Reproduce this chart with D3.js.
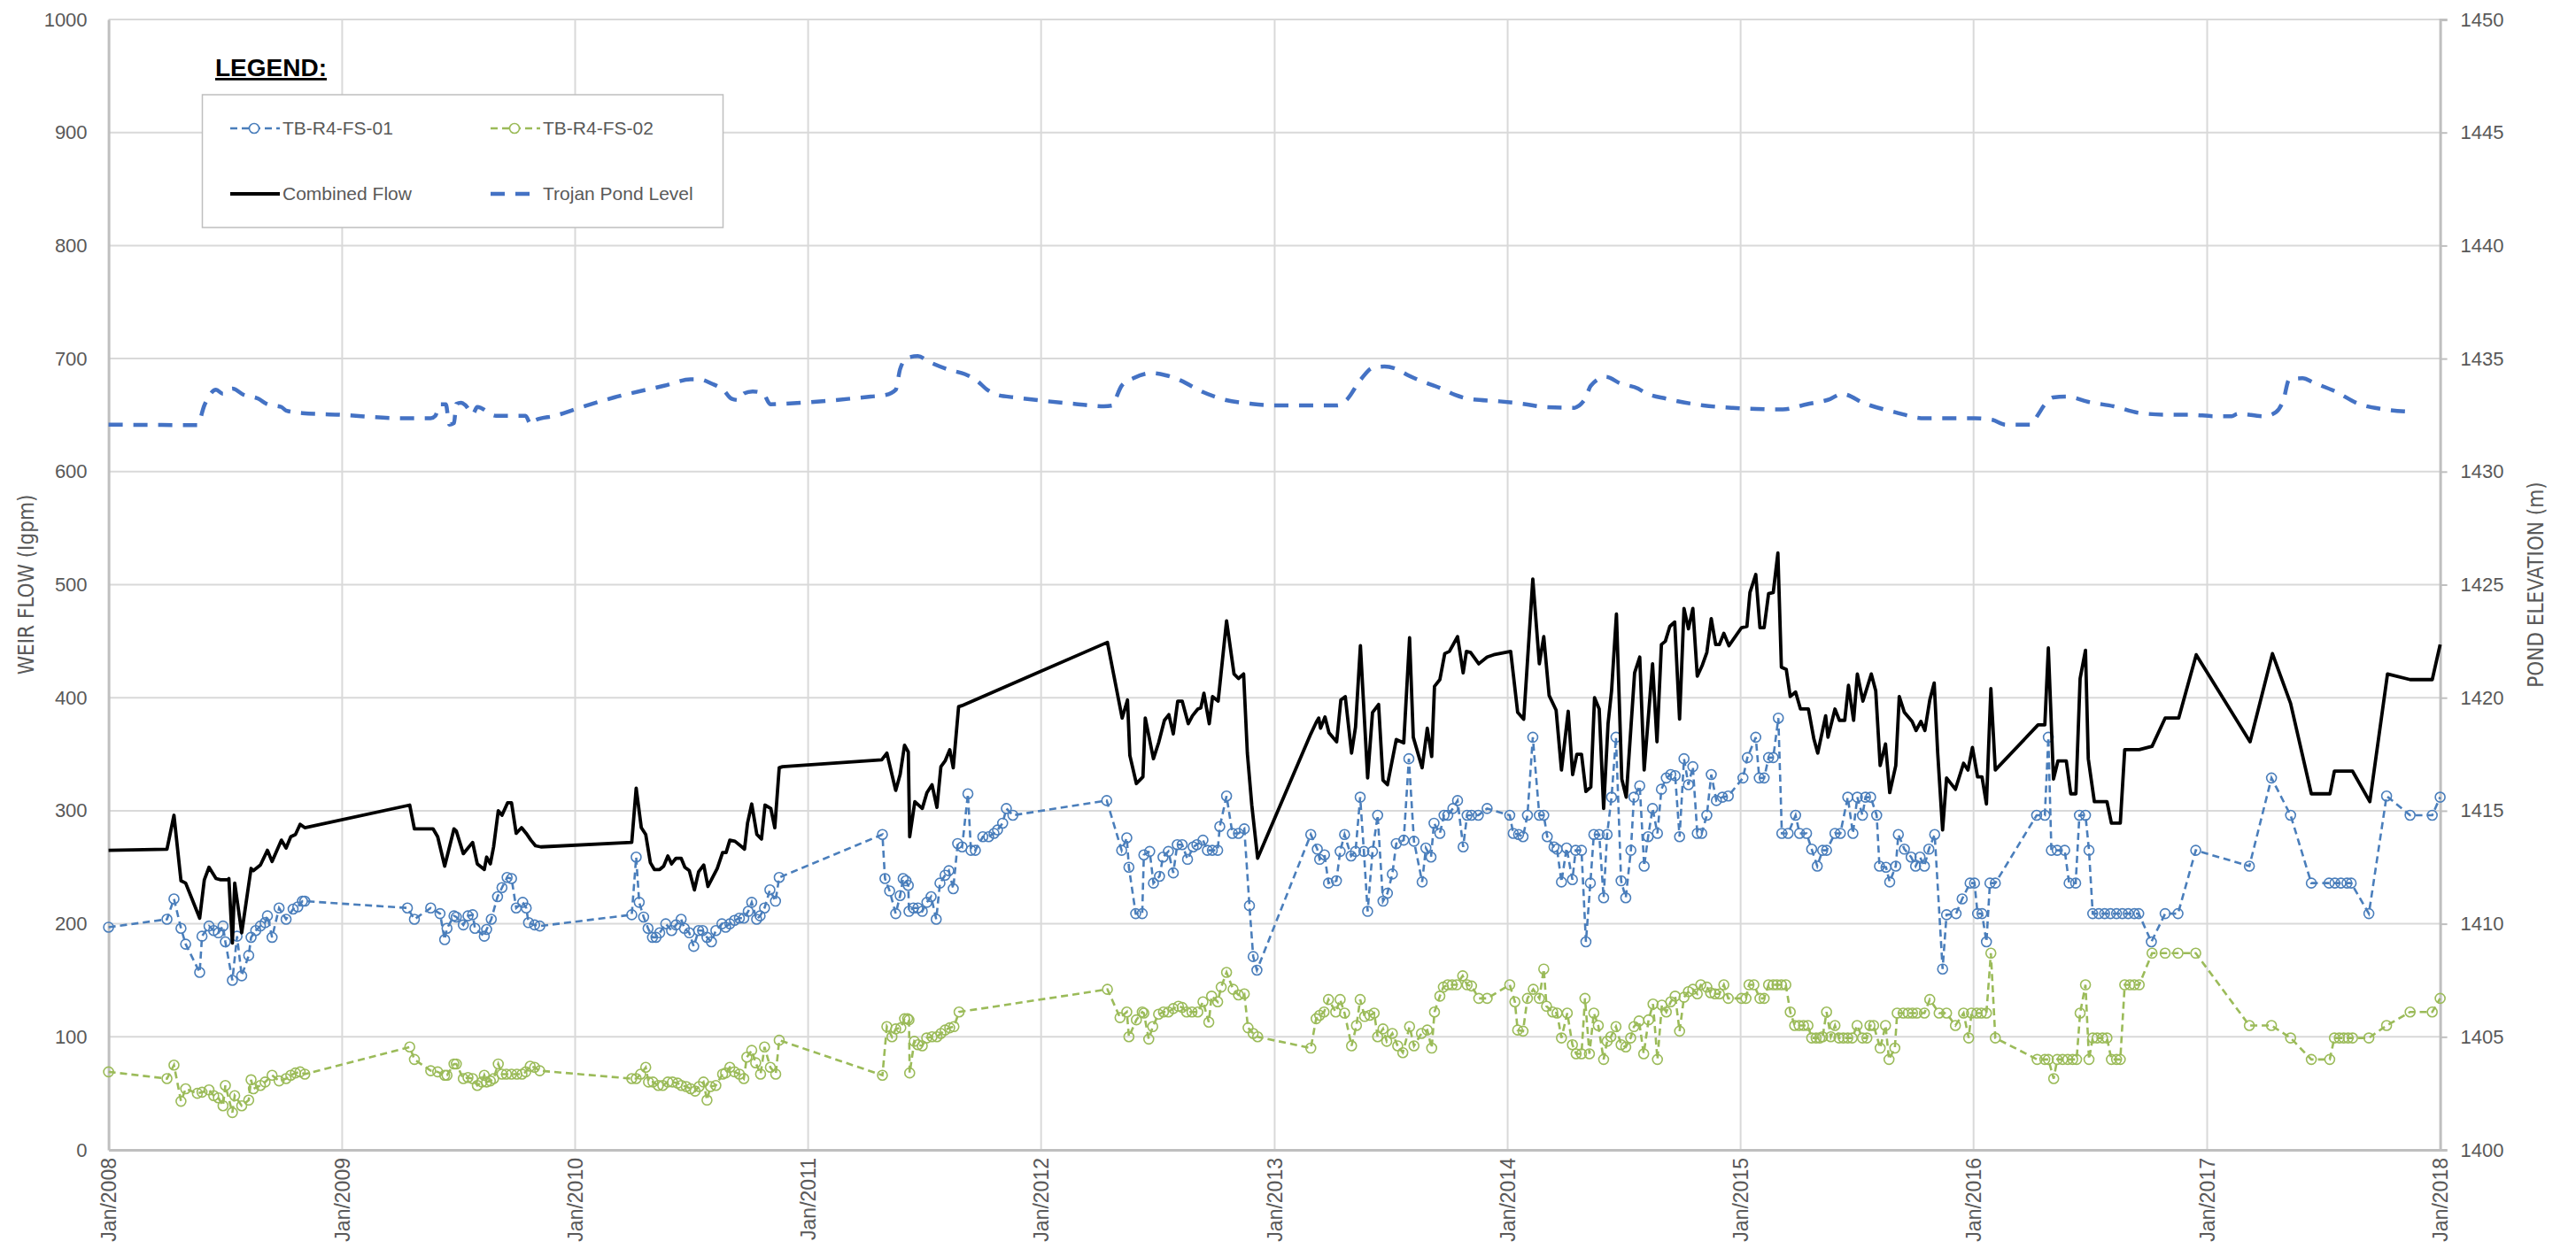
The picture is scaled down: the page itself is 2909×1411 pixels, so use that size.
<!DOCTYPE html>
<html><head><meta charset="utf-8">
<script src="https://cdn.jsdelivr.net/npm/d3@7"></script>
<style>
html,body{margin:0;padding:0;background:#fff;}
svg{display:block;}
.tick text{fill:#595959;}
</style></head>
<body><svg id="chart" width="2909" height="1411"></svg>
<script>
// ---------- data (decimal year, value) ----------
const xTickYears = [2008,2009,2010,2011,2012,2013,2014,2015,2016,2017,2018];
const yLeftTicks = [0,100,200,300,400,500,600,700,800,900,1000];
const yRightTicks = [1400,1405,1410,1415,1420,1425,1430,1435,1440,1445,1450];

const combinedFlow = [[2008.00,265],[2008.25,266],[2008.28,296],[2008.31,238],[2008.33,236],[2008.39,205],[2008.41,239],[2008.43,250],[2008.46,240],[2008.48,239],[2008.51,239],[2008.515,240],[2008.53,183],[2008.54,236],[2008.57,192],[2008.61,249],[2008.62,247],[2008.65,252],[2008.68,265],[2008.70,255],[2008.74,274],[2008.76,267],[2008.78,277],[2008.80,279],[2008.82,288],[2008.84,285],
[2009.29,305],[2009.31,284],[2009.39,284],[2009.41,277],[2009.44,251],[2009.48,284],[2009.49,282],[2009.52,262],[2009.56,272],[2009.58,253],[2009.61,248],[2009.62,259],[2009.636,253],[2009.65,268],[2009.67,300],[2009.686,296],[2009.71,307],[2009.727,307],[2009.747,280],[2009.77,285],[2009.79,280],[2009.81,274],[2009.83,269],[2009.853,268],
[2010.243,272],[2010.262,320],[2010.284,285],[2010.303,279],[2010.323,254],[2010.34,248],[2010.363,248],[2010.38,251],[2010.398,260],[2010.414,253],[2010.433,258],[2010.455,258],[2010.471,250],[2010.49,247],[2010.512,230],[2010.53,246],[2010.552,252],[2010.57,233],[2010.61,249],[2010.633,263],[2010.648,263],[2010.664,274],[2010.686,273],[2010.71,269],[2010.727,266],[2010.74,289],[2010.758,306],[2010.78,279],[2010.80,275],[2010.815,305],[2010.84,302],[2010.857,285],[2010.876,338],[2010.89,339],
[2011.316,345],[2011.338,351],[2011.376,318],[2011.395,332],[2011.414,358],[2011.43,352],[2011.436,277],[2011.458,308],[2011.49,302],[2011.51,316],[2011.532,323],[2011.553,303],[2011.57,339],[2011.588,344],[2011.608,354],[2011.623,338],[2011.646,392],[2011.66,393],
[2012.284,449],[2012.347,382],[2012.37,398],[2012.38,349],[2012.408,324],[2012.436,330],[2012.446,382],[2012.481,346],[2012.503,360],[2012.528,380],[2012.547,385],[2012.566,368],[2012.585,397],[2012.604,397],[2012.63,377],[2012.648,384],[2012.671,390],[2012.684,391],[2012.697,404],[2012.72,377],[2012.734,401],[2012.758,397],[2012.794,468],[2012.826,421],[2012.845,417],[2012.867,421],[2012.883,351],[2012.902,305],[2012.927,258],
[2013.155,368],[2013.178,378],[2013.189,382],[2013.197,373],[2013.216,383],[2013.233,369],[2013.266,361],[2013.284,398],[2013.303,401],[2013.33,351],[2013.347,374],[2013.368,446],[2013.399,329],[2013.42,387],[2013.446,394],[2013.465,327],[2013.484,323],[2013.522,363],[2013.554,360],[2013.579,453],[2013.595,365],[2013.633,338],[2013.655,373],[2013.674,348],[2013.686,410],[2013.709,416],[2013.73,439],[2013.75,441],[2013.785,454],[2013.809,422],[2013.823,441],[2013.841,440],[2013.876,430],[2013.912,436],[2013.94,438],[2014.013,441],[2014.043,387],[2014.069,381],[2014.108,505],[2014.136,430],[2014.155,454],[2014.178,402],[2014.208,389],[2014.231,336],[2014.26,388],[2014.279,332],[2014.297,350],[2014.317,350],[2014.336,317],[2014.357,321],[2014.373,400],[2014.393,390],[2014.412,302],[2014.431,377],[2014.446,406],[2014.467,474],[2014.49,328],[2014.509,312],[2014.545,422],[2014.567,436],[2014.586,336],[2014.622,430],[2014.641,361],[2014.66,447],[2014.677,450],[2014.696,463],[2014.717,467],[2014.738,381],[2014.757,479],[2014.776,461],[2014.795,479],[2014.814,419],[2014.836,429],[2014.855,440],[2014.874,470],[2014.893,447],[2014.909,447],[2014.928,457],[2014.95,446],
[2015.004,462],[2015.027,463],[2015.04,493],[2015.065,509],[2015.083,462],[2015.101,462],[2015.12,492],[2015.14,493],[2015.16,528],[2015.175,427],[2015.196,425],[2015.213,401],[2015.236,405],[2015.257,390],[2015.291,390],[2015.314,364],[2015.331,351],[2015.365,384],[2015.375,365],[2015.405,390],[2015.424,380],[2015.447,380],[2015.463,411],[2015.485,380],[2015.501,421],[2015.525,397],[2015.561,421],[2015.58,406],[2015.599,340],[2015.622,359],[2015.64,316],[2015.666,340],[2015.681,401],[2015.703,387],[2015.736,379],[2015.753,371],[2015.774,379],[2015.791,371],[2015.812,398],[2015.831,413],[2015.846,351],[2015.867,283],[2015.884,329],[2015.922,319],[2015.957,342],[2015.976,336],[2015.995,356],[2016.017,330],[2016.036,330],[2016.055,306],[2016.074,408],[2016.093,336],
[2016.276,376],[2016.305,376],[2016.32,444],[2016.342,328],[2016.361,344],[2016.397,344],[2016.416,315],[2016.438,315],[2016.456,417],[2016.479,442],[2016.491,346],[2016.517,308],[2016.571,308],[2016.59,289],[2016.628,289],[2016.647,354],[2016.709,354],[2016.764,357],[2016.82,382],[2016.878,382],[2016.953,438],[2017.184,361],[2017.28,439],[2017.358,395],[2017.447,315],[2017.527,315],[2017.546,335],[2017.624,335],[2017.698,308],[2017.774,421],[2017.871,416],[2017.966,416],[2018.0,447]];

const fs01 = [[2008.00,197],[2008.25,204],[2008.28,222],[2008.31,196],[2008.33,182],[2008.39,157],[2008.40,189],[2008.43,198],[2008.45,194],[2008.47,192],[2008.49,198],[2008.50,184],[2008.53,150],[2008.55,189],[2008.57,154],[2008.60,172],[2008.61,188],[2008.63,194],[2008.65,198],[2008.67,201],[2008.68,207],[2008.70,188],[2008.73,214],[2008.76,204],[2008.79,213],[2008.81,215],[2008.83,220],[2008.84,220],
[2009.28,214],[2009.31,204],[2009.38,214],[2009.42,209],[2009.44,186],[2009.45,196],[2009.48,207],[2009.49,206],[2009.52,199],[2009.54,207],[2009.56,208],[2009.57,196],[2009.61,189],[2009.62,195],[2009.64,204],[2009.667,224],[2009.686,232],[2009.708,241],[2009.727,240],[2009.747,214],[2009.775,219],[2009.79,214],[2009.80,201],[2009.826,199],[2009.848,198],
[2010.243,208],[2010.262,259],[2010.275,219],[2010.294,206],[2010.313,196],[2010.332,188],[2010.347,188],[2010.363,192],[2010.389,200],[2010.414,194],[2010.433,199],[2010.455,204],[2010.469,196],[2010.49,192],[2010.509,180],[2010.53,194],[2010.547,194],[2010.566,188],[2010.585,184],[2010.604,194],[2010.63,200],[2010.646,197],[2010.664,200],[2010.684,203],[2010.705,205],[2010.724,205],[2010.743,211],[2010.758,219],[2010.779,204],[2010.794,207],[2010.813,214],[2010.836,230],[2010.86,220],[2010.876,241],
[2011.319,279],[2011.33,240],[2011.35,229],[2011.376,209],[2011.395,225],[2011.408,240],[2011.42,238],[2011.43,234],[2011.433,211],[2011.452,214],[2011.471,214],[2011.49,211],[2011.51,219],[2011.528,224],[2011.55,204],[2011.566,236],[2011.588,243],[2011.604,247],[2011.623,231],[2011.642,271],[2011.661,268],[2011.686,315],[2011.699,265],[2011.718,265],[2011.75,277],[2011.775,277],[2011.798,280],[2011.813,283],[2011.835,289],[2011.851,302],[2011.879,296],
[2012.281,309],[2012.345,265],[2012.367,276],[2012.376,250],[2012.405,209],[2012.433,209],[2012.44,261],[2012.465,264],[2012.481,236],[2012.507,242],[2012.522,259],[2012.545,264],[2012.566,245],[2012.583,270],[2012.604,270],[2012.627,257],[2012.651,268],[2012.667,270],[2012.693,274],[2012.712,265],[2012.733,265],[2012.756,265],[2012.765,286],[2012.794,313],[2012.819,280],[2012.845,280],[2012.87,284],[2012.892,216],[2012.908,171],[2012.924,159],
[2013.155,279],[2013.183,266],[2013.193,257],[2013.214,261],[2013.231,236],[2013.265,238],[2013.281,264],[2013.30,279],[2013.328,260],[2013.347,264],[2013.367,312],[2013.383,264],[2013.399,211],[2013.42,264],[2013.442,296],[2013.465,220],[2013.484,227],[2013.505,244],[2013.522,271],[2013.554,274],[2013.576,346],[2013.598,273],[2013.633,237],[2013.649,267],[2013.671,259],[2013.684,289],[2013.709,280],[2013.727,296],[2013.743,296],[2013.765,302],[2013.785,309],[2013.809,268],[2013.826,296],[2013.845,296],[2013.874,296],[2013.912,302],
[2014.009,296],[2014.024,280],[2014.047,279],[2014.066,277],[2014.085,296],[2014.108,365],[2014.136,296],[2014.155,296],[2014.17,277],[2014.199,268],[2014.212,266],[2014.231,237],[2014.253,267],[2014.278,239],[2014.292,265],[2014.317,265],[2014.336,184],[2014.355,236],[2014.37,279],[2014.393,279],[2014.412,223],[2014.427,279],[2014.446,312],[2014.465,365],[2014.487,238],[2014.507,223],[2014.529,265],[2014.542,312],[2014.567,322],[2014.586,251],[2014.603,277],[2014.622,302],[2014.643,280],[2014.66,319],[2014.681,329],[2014.70,332],[2014.719,331],[2014.738,277],[2014.757,346],[2014.776,323],[2014.795,339],[2014.814,280],[2014.833,280],[2014.855,296],[2014.874,332],[2014.896,309],[2014.922,312],[2014.947,313],
[2015.01,329],[2015.029,347],[2015.065,365],[2015.08,329],[2015.101,329],[2015.12,347],[2015.14,347],[2015.162,382],[2015.177,280],[2015.204,280],[2015.236,296],[2015.253,280],[2015.283,280],[2015.305,266],[2015.329,251],[2015.352,265],[2015.369,265],[2015.405,280],[2015.428,280],[2015.46,312],[2015.482,280],[2015.501,312],[2015.523,296],[2015.536,312],[2015.558,312],[2015.584,296],[2015.596,251],[2015.624,250],[2015.64,237],[2015.666,251],[2015.677,279],[2015.703,266],[2015.732,259],[2015.751,251],[2015.77,259],[2015.789,251],[2015.808,266],[2015.833,279],[2015.867,160],[2015.884,208],[2015.925,209],[2015.951,222],[2015.985,236],[2016.004,236],[2016.017,209],[2016.036,209],[2016.055,184],[2016.07,236],[2016.093,236],
[2016.27,296],[2016.305,296],[2016.32,365],[2016.333,265],[2016.358,265],[2016.39,265],[2016.409,236],[2016.437,236],[2016.453,296],[2016.479,296],[2016.494,265],[2016.51,209],[2016.536,209],[2016.561,209],[2016.586,209],[2016.612,209],[2016.637,209],[2016.662,209],[2016.688,209],[2016.707,209],[2016.761,184],[2016.82,209],[2016.875,209],[2016.951,265],[2017.181,251],[2017.276,329],[2017.358,296],[2017.447,236],[2017.523,236],[2017.548,236],[2017.574,236],[2017.60,236],[2017.618,236],[2017.694,209],[2017.77,313],[2017.871,296],[2017.966,296],[2018.0,312]];

const fs02 = [[2008.00,69],[2008.25,63],[2008.28,75],[2008.31,43],[2008.33,54],[2008.38,50],[2008.40,51],[2008.43,53],[2008.45,48],[2008.47,46],[2008.49,39],[2008.50,57],[2008.53,33],[2008.54,48],[2008.57,39],[2008.60,44],[2008.61,62],[2008.62,54],[2008.65,57],[2008.67,60],[2008.70,66],[2008.73,61],[2008.76,63],[2008.78,66],[2008.80,68],[2008.82,69],[2008.84,67],
[2009.29,91],[2009.31,80],[2009.38,70],[2009.41,69],[2009.44,66],[2009.45,66],[2009.48,76],[2009.49,76],[2009.52,63],[2009.54,64],[2009.56,63],[2009.58,57],[2009.60,60],[2009.61,66],[2009.62,60],[2009.636,61],[2009.65,63],[2009.67,76],[2009.686,67],[2009.705,67],[2009.727,67],[2009.75,67],[2009.772,67],[2009.788,69],[2009.807,74],[2009.826,73],[2009.848,70],
[2010.243,63],[2010.262,63],[2010.281,67],[2010.303,73],[2010.315,60],[2010.334,60],[2010.357,57],[2010.376,57],[2010.398,60],[2010.418,60],[2010.44,59],[2010.456,57],[2010.477,56],[2010.496,54],[2010.515,52],[2010.532,56],[2010.551,60],[2010.566,44],[2010.581,56],[2010.604,57],[2010.633,67],[2010.646,68],[2010.664,73],[2010.684,69],[2010.705,67],[2010.724,63],[2010.737,82],[2010.758,88],[2010.775,77],[2010.796,67],[2010.813,91],[2010.838,73],[2010.861,67],[2010.876,97],
[2011.319,66],[2011.338,109],[2011.36,100],[2011.376,107],[2011.398,108],[2011.414,116],[2011.427,116],[2011.433,115],[2011.436,68],[2011.456,96],[2011.471,93],[2011.49,92],[2011.509,99],[2011.532,100],[2011.553,100],[2011.57,103],[2011.588,106],[2011.608,108],[2011.626,109],[2011.648,122],
[2012.284,142],[2012.338,117],[2012.367,122],[2012.376,100],[2012.408,115],[2012.433,122],[2012.44,121],[2012.461,98],[2012.478,109],[2012.503,120],[2012.524,122],[2012.545,122],[2012.566,125],[2012.588,127],[2012.604,126],[2012.623,122],[2012.646,122],[2012.671,122],[2012.693,131],[2012.718,113],[2012.73,136],[2012.756,131],[2012.771,144],[2012.794,157],[2012.822,142],[2012.845,137],[2012.87,138],[2012.886,108],[2012.908,103],[2012.927,100],
[2013.155,90],[2013.178,116],[2013.193,119],[2013.212,122],[2013.231,133],[2013.262,122],[2013.281,133],[2013.30,121],[2013.33,92],[2013.351,110],[2013.367,133],[2013.386,118],[2013.408,119],[2013.427,121],[2013.442,100],[2013.465,107],[2013.481,96],[2013.505,103],[2013.528,92],[2013.55,86],[2013.579,109],[2013.598,92],[2013.63,103],[2013.655,106],[2013.674,90],[2013.686,122],[2013.709,136],[2013.724,144],[2013.743,146],[2013.762,146],[2013.781,146],[2013.807,154],[2013.826,146],[2013.845,145],[2013.876,134],[2013.912,134],
[2014.009,146],[2014.031,131],[2014.043,106],[2014.066,105],[2014.085,134],[2014.11,142],[2014.136,134],[2014.155,160],[2014.167,127],[2014.193,122],[2014.212,121],[2014.231,99],[2014.256,121],[2014.278,93],[2014.294,85],[2014.317,85],[2014.332,134],[2014.351,85],[2014.37,121],[2014.389,110],[2014.412,80],[2014.427,96],[2014.443,100],[2014.465,109],[2014.487,93],[2014.507,91],[2014.528,99],[2014.542,109],[2014.564,114],[2014.584,85],[2014.605,115],[2014.624,129],[2014.643,80],[2014.662,128],[2014.681,122],[2014.70,131],[2014.719,136],[2014.738,105],[2014.757,135],[2014.776,140],[2014.795,142],[2014.814,138],[2014.829,146],[2014.855,144],[2014.871,139],[2014.89,138],[2014.909,138],[2014.928,146],[2014.947,134],
[2015.004,134],[2015.023,134],[2015.036,146],[2015.057,146],[2015.083,134],[2015.101,134],[2015.12,146],[2015.14,146],[2015.156,146],[2015.175,146],[2015.194,146],[2015.213,122],[2015.232,110],[2015.251,110],[2015.27,110],[2015.289,110],[2015.305,99],[2015.324,99],[2015.34,99],[2015.352,100],[2015.369,122],[2015.387,100],[2015.405,110],[2015.422,99],[2015.441,99],[2015.46,99],[2015.479,99],[2015.50,110],[2015.523,99],[2015.542,99],[2015.555,110],[2015.571,110],[2015.599,90],[2015.622,110],[2015.637,80],[2015.662,90],[2015.672,121],[2015.698,121],[2015.719,121],[2015.738,121],[2015.757,121],[2015.789,121],[2015.812,133],[2015.852,121],[2015.884,121],[2015.922,110],[2015.957,121],[2015.979,99],[2015.991,121],[2016.014,121],[2016.033,121],[2016.055,121],[2016.074,174],[2016.093,99],
[2016.272,80],[2016.305,80],[2016.32,80],[2016.343,63],[2016.358,80],[2016.381,80],[2016.403,80],[2016.424,80],[2016.441,80],[2016.456,121],[2016.479,146],[2016.494,80],[2016.51,99],[2016.529,99],[2016.552,99],[2016.571,99],[2016.59,80],[2016.612,80],[2016.628,80],[2016.647,146],[2016.669,146],[2016.688,146],[2016.709,146],[2016.764,174],[2016.82,174],[2016.875,174],[2016.951,174],[2017.181,110],[2017.276,110],[2017.358,99],[2017.447,80],[2017.526,80],[2017.546,99],[2017.567,99],[2017.586,99],[2017.605,99],[2017.624,99],[2017.694,99],[2017.77,110],[2017.871,122],[2017.966,122],[2018.0,134]];

const pondLevel = [[2008.00,1432.08],[2008.38,1432.06],[2008.41,1432.93],[2008.46,1433.62],[2008.49,1433.44],[2008.53,1433.67],[2008.58,1433.39],[2008.64,1433.23],[2008.68,1432.98],[2008.74,1432.86],[2008.76,1432.70],[2008.83,1432.59],[2008.98,1432.52],[2009.26,1432.36],[2009.38,1432.36],[2009.40,1432.47],[2009.42,1432.98],[2009.445,1432.98],[2009.46,1432.08],[2009.48,1432.15],[2009.49,1433.0],[2009.51,1433.05],[2009.53,1432.93],[2009.56,1432.54],[2009.58,1432.86],[2009.66,1432.47],[2009.787,1432.47],[2009.81,1432.08],[2009.832,1432.29],[2009.914,1432.47],[2010.003,1432.77],[2010.167,1433.28],[2010.382,1433.80],[2010.496,1434.08],[2010.534,1434.08],[2010.585,1433.90],[2010.636,1433.62],[2010.671,1433.23],[2010.705,1433.16],[2010.724,1433.46],[2010.762,1433.55],[2010.807,1433.46],[2010.838,1432.98],[2010.889,1433.0],[2011.269,1433.32],[2011.332,1433.39],[2011.376,1433.62],[2011.395,1434.54],[2011.427,1435.04],[2011.471,1435.11],[2011.522,1434.84],[2011.61,1434.49],[2011.674,1434.31],[2011.724,1434.03],[2011.769,1433.62],[2011.813,1433.39],[2011.889,1433.28],[2012.003,1433.14],[2012.142,1433.0],[2012.269,1432.89],[2012.307,1432.93],[2012.319,1433.21],[2012.345,1433.80],[2012.395,1434.13],[2012.471,1434.36],[2012.534,1434.26],[2012.598,1434.03],[2012.686,1433.55],[2012.775,1433.21],[2012.902,1433.0],[2013.003,1432.93],[2013.269,1432.93],[2013.307,1433.16],[2013.37,1434.08],[2013.42,1434.59],[2013.471,1434.65],[2013.522,1434.54],[2013.573,1434.26],[2013.623,1434.03],[2013.712,1433.69],[2013.775,1433.39],[2013.838,1433.21],[2013.965,1433.11],[2014.079,1432.98],[2014.155,1432.86],[2014.281,1432.82],[2014.332,1433.21],[2014.357,1433.80],[2014.421,1434.19],[2014.484,1433.90],[2014.56,1433.67],[2014.586,1433.51],[2014.688,1433.21],[2014.839,1432.93],[2014.966,1432.82],[2015.067,1432.77],[2015.181,1432.75],[2015.283,1432.98],[2015.384,1433.21],[2015.434,1433.44],[2015.536,1433.0],[2015.662,1432.63],[2015.789,1432.36],[2016.004,1432.36],[2016.08,1432.29],[2016.137,1432.08],[2016.245,1432.08],[2016.276,1432.52],[2016.302,1432.93],[2016.34,1433.28],[2016.397,1433.32],[2016.498,1433.07],[2016.6,1432.89],[2016.713,1432.59],[2016.827,1432.52],[2016.928,1432.52],[2017.029,1432.45],[2017.105,1432.45],[2017.131,1432.56],[2017.245,1432.45],[2017.295,1432.63],[2017.327,1433.16],[2017.352,1434.08],[2017.409,1434.13],[2017.46,1433.92],[2017.549,1433.55],[2017.65,1433.0],[2017.751,1432.77],[2017.871,1432.65]];

// ---------- helpers ----------
function toDate(dy){
  const y = Math.floor(dy);
  const s = Date.UTC(y,0,1), e = Date.UTC(y+1,0,1);
  return new Date(s + (dy - y) * (e - s));
}
const svg = d3.select("#chart");
const X0 = 122.6, X1 = 2755.6, YT = 22, YB = 1299;
const x = d3.scaleUtc().domain([toDate(2008), toDate(2018)]).range([X0, X1]);
const yL = d3.scaleLinear().domain([0, 1000]).range([YB, YT]);
const yR = d3.scaleLinear().domain([1400, 1450]).range([YB, YT]);
const labelFont = "'Liberation Sans', Arial, sans-serif";
const narrowFont = "'Liberation Sans Narrow', 'DejaVu Sans Condensed', 'Roboto Condensed', 'Liberation Sans', sans-serif";

// gridlines
const grid = svg.append("g");
grid.selectAll("line.h").data(yLeftTicks.filter(d => d > 0)).enter().append("line")
  .attr("x1", X0).attr("x2", X1).attr("y1", d => yL(d)).attr("y2", d => yL(d))
  .attr("stroke", "#d9d9d9").attr("stroke-width", 2);
grid.selectAll("line.v").data(xTickYears.slice(1, -1)).enter().append("line")
  .attr("x1", d => x(toDate(d))).attr("x2", d => x(toDate(d))).attr("y1", YT).attr("y2", YB)
  .attr("stroke", "#d9d9d9").attr("stroke-width", 2);

// axes
const fmt = d3.format("d");
const axL = svg.append("g").attr("transform", `translate(${X0},0)`)
  .call(d3.axisLeft(yL).tickValues(yLeftTicks).tickFormat(fmt).tickSize(0).tickPadding(24));
axL.select(".domain").attr("stroke", "#bfbfbf").attr("stroke-width", 3);
axL.selectAll("text").attr("font-family", labelFont).attr("font-size", 22).attr("fill", "#595959");

const axR = svg.append("g").attr("transform", `translate(${X1},0)`)
  .call(d3.axisRight(yR).tickValues(yRightTicks).tickFormat(fmt).tickSize(8).tickPadding(15));
axR.select(".domain").attr("stroke", "#bfbfbf").attr("stroke-width", 3);
axR.selectAll("line").attr("stroke", "#bfbfbf").attr("stroke-width", 2);
axR.selectAll("text").attr("font-family", labelFont).attr("font-size", 22).attr("fill", "#595959");

const axB = svg.append("g").attr("transform", `translate(0,${YB})`)
  .call(d3.axisBottom(x).tickValues(xTickYears.map(toDate)).tickSize(0)
    .tickFormat(d => "Jan/" + d.getUTCFullYear()));
axB.select(".domain").attr("stroke", "#bfbfbf").attr("stroke-width", 3);
axB.selectAll("text").attr("font-family", labelFont).attr("font-size", 23).attr("fill", "#595959")
  .attr("transform", "rotate(-90)").attr("text-anchor", "end")
  .attr("x", -9).attr("y", 0).attr("dy", "0.35em");

// axis titles
svg.append("text").attr("transform", `translate(38,${(YT + YB) / 2}) rotate(-90)`)
  .attr("text-anchor", "middle").attr("font-family", narrowFont).attr("font-size", 24)
  .attr("fill", "#595959").text("WEIR FLOW (Igpm)");
svg.append("text").attr("transform", `translate(2872,${(YT + YB) / 2}) rotate(-90)`)
  .attr("text-anchor", "middle").attr("font-family", narrowFont).attr("font-size", 24)
  .attr("fill", "#595959").text("POND ELEVATION (m)");

// series
const lineL = d3.line().x(d => x(toDate(d[0]))).y(d => yL(d[1]));
const lineR = d3.line().x(d => x(toDate(d[0]))).y(d => yR(d[1])).curve(d3.curveMonotoneX);
const BLUE = "#4A7EBB", GREEN = "#9BBB59", POND = "#4472C4";

svg.append("path").datum(pondLevel).attr("d", lineR).attr("fill", "none")
  .attr("stroke", POND).attr("stroke-width", 4.5).attr("stroke-dasharray", "16,12");

function markerSeries(data, color){
  svg.append("path").datum(data).attr("d", lineL).attr("fill", "none")
    .attr("stroke", color).attr("stroke-width", 2.6).attr("stroke-dasharray", "8,5");
  svg.append("g").selectAll("circle").data(data).enter().append("circle")
    .attr("cx", d => x(toDate(d[0]))).attr("cy", d => yL(d[1])).attr("r", 5.5)
    .attr("fill", "none").attr("stroke", color).attr("stroke-width", 1.6);
}
markerSeries(fs01, BLUE);
markerSeries(fs02, GREEN);

svg.append("path").datum(combinedFlow).attr("d", lineL).attr("fill", "none")
  .attr("stroke", "#000").attr("stroke-width", 3.8).attr("stroke-linejoin", "round");

// legend
const lg = svg.append("g");
lg.append("text").attr("x", 243).attr("y", 86).attr("font-family", labelFont)
  .attr("font-weight", "bold").attr("font-size", 28).attr("fill", "#000")
  .attr("text-decoration", "underline").text("LEGEND:");
lg.append("rect").attr("x", 228.5).attr("y", 107).attr("width", 588).attr("height", 150)
  .attr("fill", "#fff").attr("stroke", "#bfbfbf").attr("stroke-width", 1.5);
const legItems = [
  {name: "TB-R4-FS-01", x: 260, y: 145, type: "marker", color: BLUE},
  {name: "TB-R4-FS-02", x: 554, y: 145, type: "marker", color: GREEN},
  {name: "Combined Flow", x: 260, y: 219, type: "solid", color: "#000"},
  {name: "Trojan Pond Level", x: 554, y: 219, type: "pond", color: POND}
];
legItems.forEach(it => {
  if (it.type === "marker") {
    lg.append("line").attr("x1", it.x).attr("x2", it.x + 56).attr("y1", it.y).attr("y2", it.y)
      .attr("stroke", it.color).attr("stroke-width", 2.6).attr("stroke-dasharray", "8,5");
    lg.append("circle").attr("cx", it.x + 27).attr("cy", it.y).attr("r", 5.5)
      .attr("fill", "#fff").attr("stroke", it.color).attr("stroke-width", 1.6);
  } else if (it.type === "solid") {
    lg.append("line").attr("x1", it.x).attr("x2", it.x + 56).attr("y1", it.y).attr("y2", it.y)
      .attr("stroke", it.color).attr("stroke-width", 3.8);
  } else {
    lg.append("line").attr("x1", it.x).attr("x2", it.x + 46).attr("y1", it.y).attr("y2", it.y)
      .attr("stroke", it.color).attr("stroke-width", 4.5).attr("stroke-dasharray", "16,12");
  }
  lg.append("text").attr("x", it.x + 59).attr("y", it.y).attr("dy", "0.35em")
    .attr("font-family", labelFont).attr("font-size", 21).attr("fill", "#595959").text(it.name);
});
</script></body></html>
